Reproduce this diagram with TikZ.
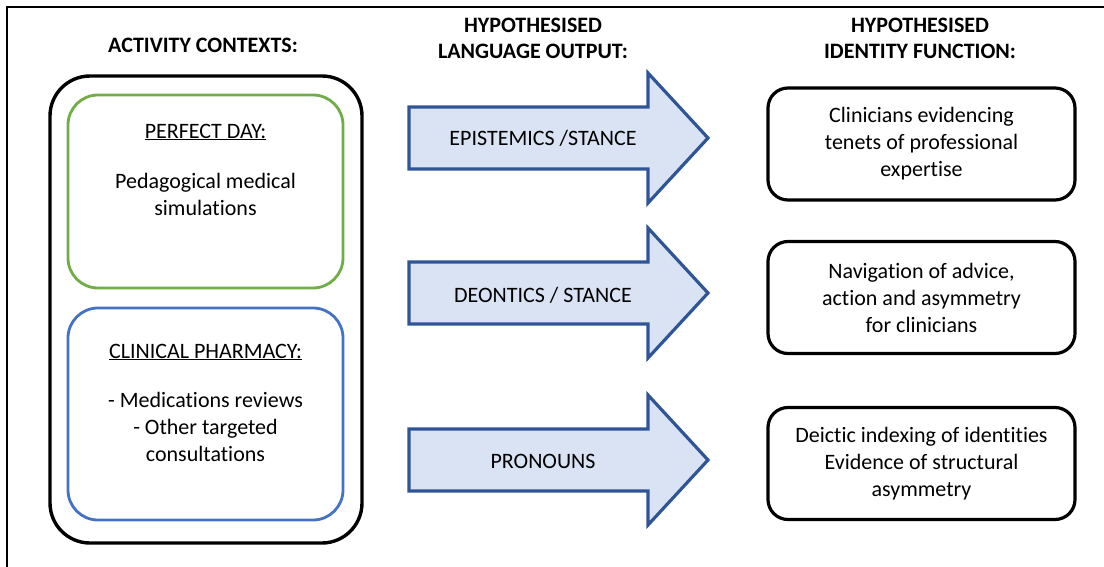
\documentclass[tikz,border=0pt]{standalone}
\usepackage{fontspec}
\setmainfont{Carlito}[Ligatures=NoCommon]
\definecolor{grn}{HTML}{70AD47}
\definecolor{blu}{HTML}{4472C4}
\definecolor{arrfill}{HTML}{DAE3F3}
\definecolor{arrdraw}{HTML}{2F5597}
\begin{document}
\begin{tikzpicture}[x=1pt,y=-1pt,
  txt/.style={align=center,inner sep=0pt,font=\fontsize{22}{27}\selectfont},
  head/.style={align=center,inner sep=0pt,font=\fontsize{22}{26}\selectfont\bfseries},
  ctxbox/.style={draw,line width=2.8pt,rounded corners=30pt,minimum width=275pt},
  idbox/.style={draw=black,line width=3.2pt,rounded corners=20pt,minimum width=307pt,minimum height=112pt},
  arrowshape/.style={draw=arrdraw,fill=arrfill,line width=3.2pt,line join=miter}
]
\useasboundingbox (0,0) rectangle (1104,567);
\draw[line width=1.3pt] (7,567) -- (7,7) -- (1104,7);

% headers
\node[head] (h1) at (203,45) {ACTIVITY CONTEXTS:};
\node[head] (h2) at (533,38) {HYPOTHESISED\\LANGUAGE OUTPUT:};
\node[head] (h3) at (920,38) {HYPOTHESISED\\IDENTITY FUNCTION:};

% left column
\node[draw,line width=3.4pt,rounded corners=40pt,minimum width=312pt,minimum height=467pt] (outer) at (206,309.5) {};
\node[ctxbox,draw=grn,minimum height=193pt] (pd) at (205.5,191.5) {};
\node[ctxbox,draw=blu,minimum height=212pt] (cp) at (205.5,414) {};
\node[txt] (pdt) at (205.5,132) {\underline{PERFECT DAY:}};
\node[txt] (pdb) at (205.5,194.5) {Pedagogical medical\\simulations};
\node[txt] (cpt) at (205.5,352) {\underline{CLINICAL PHARMACY:}};
\node[txt] (cpb) at (205.5,427) {- Medications reviews\\- Other targeted\\consultations};

% arrows
\foreach \cy/\nm in {138/a1,293/a2,460/a3}{
  \draw[arrowshape] (409,\cy-31) -- (648,\cy-31) -- (648,\cy-65) -- (708,\cy) -- (648,\cy+65) -- (648,\cy+31) -- (409,\cy+31) -- cycle;
}
\node[txt] (e1) at (543,138) {EPISTEMICS /STANCE};
\node[txt] (e2) at (543,295) {DEONTICS / STANCE};
\node[txt] (e3) at (543,461) {PRONOUNS};

% right column
\node[idbox] (r1) at (921.5,144) {};
\node[idbox] (r2) at (921.5,297.5) {};
\node[idbox] (r3) at (921.5,463.5) {};
\node[txt] at (r1) {Clinicians evidencing\\tenets of professional\\expertise};
\node[txt] at (r2) {Navigation of advice,\\action and asymmetry\\for clinicians};
\node[txt] at (r3) {Deictic indexing of identities\\Evidence of structural\\asymmetry};
\end{tikzpicture}
\end{document}
